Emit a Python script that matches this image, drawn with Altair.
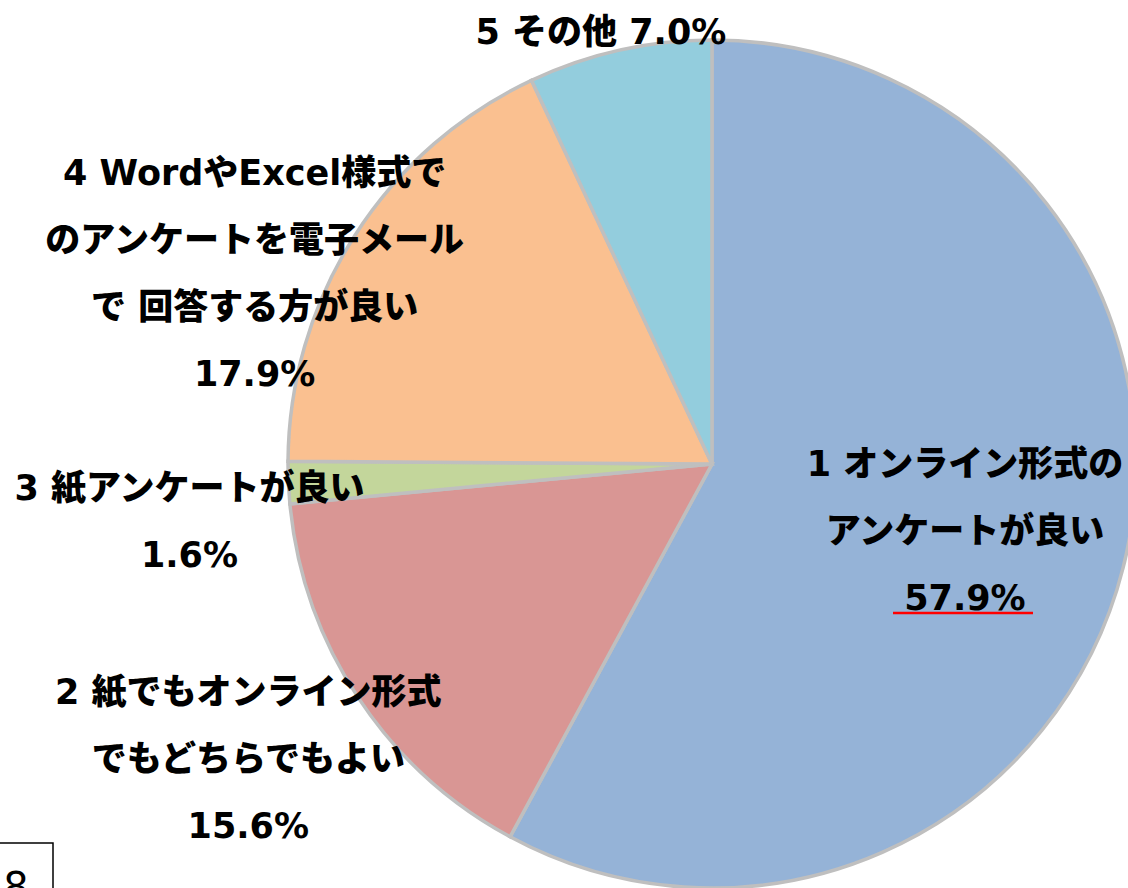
import math
import altair as alt
import pandas as pd

categories = [
    "1 オンライン形式のアンケートが良い",
    "2 紙でもオンライン形式でもどちらでもよい",
    "3 紙アンケートが良い",
    "4 WordやExcel様式でのアンケートを電子メールで回答する方が良い",
    "5 その他",
]
values = [57.9, 15.6, 1.6, 17.9, 7.0]
label_lines = [
    ["1 オンライン形式の", "アンケートが良い", "57.9%"],
    ["2 紙でもオンライン形式", "でもどちらでもよい", "15.6%"],
    ["3 紙アンケートが良い", "1.6%"],
    ["4 WordやExcel様式で", "のアンケートを電子メール", "で 回答する方が良い", "17.9%"],
    ["5 その他 7.0%"],
]
colors = ["#95B3D7", "#D99694", "#C3D69B", "#FAC090", "#93CDDD"]

# label placement: (radius from centre, dx, dy) for the centre of each label block
label_place = [(262, -1, 4), (550, -5, -7), (522, -1, 36), (487, -47, 73), (445, -14, 3)]
LINE_H = 67

CX, CY, R = 712, 464, 424
FONT = "DejaVu Sans, Noto Sans CJK JP"

df = pd.DataFrame({
    "order": list(range(len(categories))),
    "category": categories,
    "value": values,
    "label": ["\n".join(l) for l in label_lines],
})
total = sum(values)

base = alt.Chart(df).transform_window(
    cum="sum(value)", sort=[alt.SortField("order")], frame=[None, 0]
).transform_calculate(
    start="datum.cum - datum.value",
    mid="datum.cum - datum.value / 2",
)

theta_scale = alt.Scale(domain=[0, total], range=[0, 2 * math.pi])

pie = base.mark_arc(outerRadius=R, stroke="#BFBFBF", strokeWidth=3.5).encode(
    theta=alt.Theta("start:Q", scale=theta_scale, stack=None),
    theta2="cum:Q",
    color=alt.Color("category:N", scale=alt.Scale(domain=categories, range=colors), legend=None),
    x=alt.value(CX),
    y=alt.value(CY),
)

layers = [pie]
for i, (r, dx, dy) in enumerate(label_place):
    n = len(label_lines[i])
    t = base.transform_filter(alt.datum.order == i).mark_text(
        radius=r, dx=dx, dy=dy - (n - 1) * LINE_H / 2, font=FONT, fontSize=35, fontWeight=900,
        lineBreak="\n", lineHeight=LINE_H, align="center", baseline="middle", color="black",
    ).encode(
        theta=alt.Theta("mid:Q", scale=theta_scale, stack=None),
        text="label:N",
        x=alt.value(CX),
        y=alt.value(CY),
    )
    layers.append(t)

underline = base.transform_filter(alt.datum.order == 0).mark_rule(color="#FF0000", strokeWidth=2.5).encode(
    x=alt.value(893), x2=alt.value(1033), y=alt.value(613)
)
layers.append(underline)

page_box = base.transform_filter(alt.datum.order == 0).mark_rect(
    fill="white", stroke="black", strokeWidth=1.5
).encode(x=alt.value(-5), x2=alt.value(53), y=alt.value(843), y2=alt.value(900))
page_num = base.transform_filter(alt.datum.order == 0).mark_text(
    font="DejaVu Sans", fontSize=40, align="center", baseline="alphabetic", color="black"
).encode(x=alt.value(16), y=alt.value(901), text=alt.value("8"))
layers += [page_box, page_num]

chart = alt.layer(*layers).properties(
    width=1128, height=888, autosize=alt.AutoSizeParams(type="none"), padding=0,
    background="white",
).configure_view(stroke=None)

chart.save("out.html", embed_options={"renderer": "svg", "actions": False})
